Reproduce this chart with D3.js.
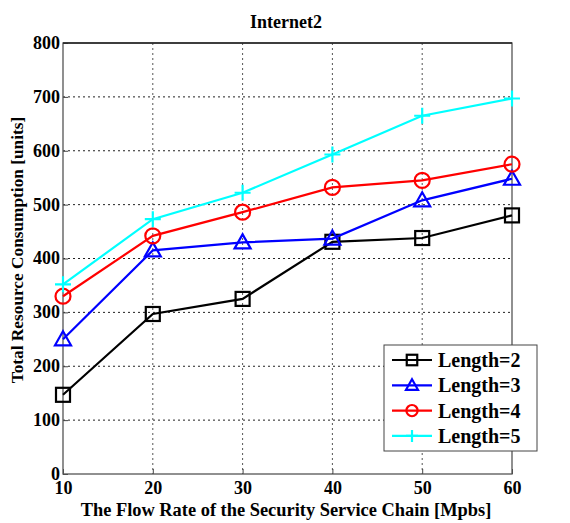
<!DOCTYPE html>
<html>
<head>
<meta charset="utf-8">
<script src="https://cdn.jsdelivr.net/npm/d3@7"></script>
<style>
  body { margin: 0; background: #fff; }
  text { font-family: "Liberation Serif", "Times New Roman", serif; font-weight: bold; }
</style>
</head>
<body>
<script>
var rates = [10, 20, 30, 40, 50, 60];
var len2 = [147, 297, 325, 431, 438, 480];
var len3 = [250, 415, 430, 437, 508, 548];
var len4 = [330, 442, 486, 532, 545, 575];
var len5 = [352, 473, 522, 593, 665, 697];
var seriesNames = ["Length=2", "Length=3", "Length=4", "Length=5"];
var yTicks = [0, 100, 200, 300, 400, 500, 600, 700, 800];

var colors = ["#000000", "#0000ff", "#ff0000", "#00ffff"];
var markers = ["square", "triangle", "circle", "plus"];
var allSeries = [len2, len3, len4, len5];

function drawChart() {
    var w = 570, h = 523;
    var pLeft = 63, pRight = 512, pTop = 43, pBottom = 474;

    var svg = d3.select("body").append("svg")
        .attr("width", w)
        .attr("height", h);

    var x = d3.scaleLinear().domain([10, 60]).range([pLeft, pRight]);
    var y = d3.scaleLinear().domain([0, 800]).range([pBottom, pTop]);

    // grid
    svg.append("g").selectAll("line")
        .data(rates.slice(1, -1))
        .enter().append("line")
        .attr("x1", function(d){ return x(d); })
        .attr("x2", function(d){ return x(d); })
        .attr("y1", pTop).attr("y2", pBottom)
        .attr("stroke", "#555").attr("stroke-width", 1)
        .attr("stroke-dasharray", "2,3");
    svg.append("g").selectAll("line")
        .data(yTicks.slice(1, -1))
        .enter().append("line")
        .attr("y1", function(d){ return y(d); })
        .attr("y2", function(d){ return y(d); })
        .attr("x1", pLeft).attr("x2", pRight)
        .attr("stroke", "#222").attr("stroke-width", 1)
        .attr("stroke-dasharray", "2,3");

    // axes
    var xAxis = svg.append("g")
        .attr("transform", "translate(0," + pBottom + ")")
        .call(d3.axisBottom(x).tickValues(rates).tickSize(-5).tickPadding(6));
    var yAxis = svg.append("g")
        .attr("transform", "translate(" + pLeft + ",0)")
        .call(d3.axisLeft(y).tickValues(yTicks).tickSize(-5).tickPadding(3));
    [xAxis, yAxis].forEach(function(a){
        a.select(".domain").remove();
        a.selectAll("line").attr("stroke", "#444");
        a.selectAll("text")
            .attr("fill", "#000")
            .style("font-size", "18px")
            .style("font-family", "Liberation Serif")
            .style("font-weight", "bold");
    });
    yAxis.selectAll("text").attr("dy", "0.3em");
    xAxis.selectAll("text").attr("dy", "0.8em");

    // frame
    svg.append("rect")
        .attr("x", pLeft).attr("y", pTop)
        .attr("width", pRight - pLeft).attr("height", pBottom - pTop)
        .attr("fill", "none").attr("stroke", "#555").attr("stroke-width", 1.3);
    svg.append("line")
        .attr("x1", pLeft).attr("x2", pRight).attr("y1", pTop).attr("y2", pTop)
        .attr("stroke", "#222").attr("stroke-width", 1.3);

    var line = d3.line()
        .x(function(d, i){ return x(rates[i]); })
        .y(function(d){ return y(d); });

    var plot = svg.append("g");
    allSeries.forEach(function(s, k){
        plot.append("path")
            .datum(s)
            .attr("d", line)
            .attr("fill", "none")
            .attr("stroke", colors[k])
            .attr("stroke-width", 2.2);
        var mg = plot.append("g");
        s.forEach(function(v, i){
            drawMarker(mg, markers[k], colors[k], x(rates[i]), y(v), 1);
        });
    });

    // legend
    var lg = svg.append("g");
    lg.append("rect")
        .attr("x", 384).attr("y", 345).attr("width", 153).attr("height", 106)
        .attr("fill", "#fff").attr("stroke", "#444").attr("stroke-width", 1);
    seriesNames.forEach(function(name, k){
        var ly = 360 + k * 25.3;
        lg.append("line")
            .attr("x1", 392).attr("x2", 432).attr("y1", ly).attr("y2", ly)
            .attr("stroke", colors[k]).attr("stroke-width", 2.2);
        drawMarker(lg, markers[k], colors[k], 412, ly, 0.75);
        lg.append("text")
            .attr("x", 438).attr("y", ly + 7)
            .style("font-size", "20px")
            .text(name);
    });

    // title and labels
    svg.append("text")
        .attr("x", 286).attr("y", 28)
        .attr("text-anchor", "middle")
        .style("font-size", "18px")
        .text("Internet2");
    svg.append("text")
        .attr("x", 286).attr("y", 516)
        .attr("text-anchor", "middle")
        .style("font-size", "18.4px")
        .text("The Flow Rate of the Security Service Chain [Mpbs]");
    svg.append("text")
        .attr("transform", "translate(23,250) rotate(-90)")
        .attr("text-anchor", "middle")
        .style("font-size", "17.3px")
        .text("Total Resource Consumption [units]");
}

function drawMarker(g, type, color, cx, cy, s) {
    var a = 7 * s, t = 8 * s;
    if (type === "square") {
        g.append("rect").attr("x", cx - a).attr("y", cy - a)
            .attr("width", 2 * a).attr("height", 2 * a)
            .attr("fill", "none").attr("stroke", color).attr("stroke-width", 2.2);
    } else if (type === "triangle") {
        g.append("path")
            .attr("d", "M" + cx + "," + (cy - t) + "L" + (cx + t) + "," + (cy + 0.75 * t) + "L" + (cx - t) + "," + (cy + 0.75 * t) + "Z")
            .attr("fill", "none").attr("stroke", color).attr("stroke-width", 2.2);
    } else if (type === "circle") {
        g.append("circle").attr("cx", cx).attr("cy", cy).attr("r", 7.5 * s)
            .attr("fill", "none").attr("stroke", color).attr("stroke-width", 2.2);
    } else {
        g.append("path")
            .attr("d", "M" + (cx - t) + "," + cy + "H" + (cx + t) + "M" + cx + "," + (cy - t) + "V" + (cy + t))
            .attr("fill", "none").attr("stroke", color).attr("stroke-width", 2.2);
    }
}

drawChart();
</script>
</body>
</html>
